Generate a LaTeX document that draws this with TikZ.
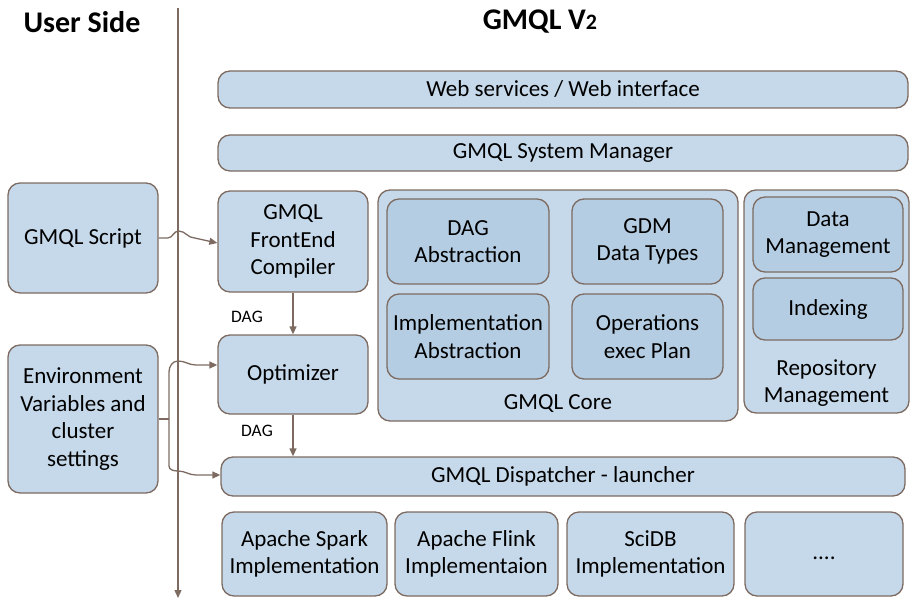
\documentclass[tikz,border=0pt]{standalone}
\usepackage{fontspec}
\setmainfont{Carlito}
\usetikzlibrary{arrows.meta}
\definecolor{boxfill}{HTML}{C6D9EA}
\definecolor{innerfill}{HTML}{B5CDE2}
\definecolor{edge}{HTML}{7D6B62}
\tikzset{
  base/.style={draw=edge, line width=1.3pt, rounded corners=12pt, align=center,
    font=\fontsize{23}{27.5}\selectfont, inner sep=0pt, text=black},
  box/.style={base, fill=boxfill},
  innerbox/.style={base, fill=innerfill},
  conn/.style={draw=edge, line width=1.3pt, -{Triangle[length=8pt,width=7pt]}},
  plain/.style={draw=edge, line width=1.3pt},
  lbl/.style={font=\fontsize{23}{27.5}\selectfont, align=center, text=black},
  title/.style={font=\fontsize{30}{34}\selectfont\bfseries},
  daglbl/.style={font=\fontsize{17.5}{19}\selectfont}
}
\begin{document}
\begin{tikzpicture}[x=1pt,y=-1pt]
\useasboundingbox (0,0) rectangle (910,599);
% titles
\node[title] (usertitle) at (82,22) {User Side};
\node[title] (gmqltitle) at (540,22) {GMQL V{\fontsize{22}{22}\selectfont 2}};
% separator line
\coordinate (sepTop) at (178,8);
\coordinate (sepBot) at (178,598);
\draw[conn] (sepTop) -- (sepBot);
% top bars
\node[box, minimum width=690pt, minimum height=37pt] (web) at (563,89.5) {Web services / Web interface};
\node[box, minimum width=690pt, minimum height=36pt] (sysman) at (563,153) {GMQL System Manager};
% user side
\node[box, minimum width=150pt, minimum height=110pt] (script) at (83,238) {GMQL Script};
\node[box, minimum width=150pt, minimum height=148pt] (env) at (83,419) {Environment\\Variables and\\cluster\\settings};
% frontend
\node[box, minimum width=150pt, minimum height=101pt] (compiler) at (293,241.5) {GMQL\\FrontEnd\\Compiler};
\node[box, minimum width=150pt, minimum height=79pt] (optimizer) at (293,374.5) {Optimizer};
\node[box, minimum width=684pt, minimum height=39pt] (dispatcher) at (563,476.5) {GMQL Dispatcher - launcher};
% core
\node[box, minimum width=360pt, minimum height=231pt] (core) at (558,305.5) {};
\node[lbl] (corelbl) at (558,404) {GMQL Core};
\node[innerbox, minimum width=162pt, minimum height=85pt] (dag) at (468,241.5) {DAG\\Abstraction};
\node[innerbox, minimum width=151pt, minimum height=85pt] (gdm) at (647.5,241.5) {GDM\\Data Types};
\node[innerbox, minimum width=162pt, minimum height=85pt] (impl) at (468,336.5) {Implementation\\Abstraction};
\node[innerbox, minimum width=151pt, minimum height=85pt] (ops) at (647.5,336.5) {Operations\\exec Plan};
% repository
\node[box, minimum width=165pt, minimum height=223pt] (repo) at (826.5,301.5) {};
\node[lbl] (repolbl) at (826.5,383) {Repository\\Management};
\node[innerbox, minimum width=150pt, minimum height=75pt] (datamgmt) at (828,234.5) {Data\\Management};
\node[innerbox, minimum width=150pt, minimum height=62pt] (indexing) at (828,309) {Indexing};
% implementations
\node[box, minimum width=165pt, minimum height=84pt] (spark) at (304.5,554) {Apache Spark\\Implementation};
\node[box, minimum width=163pt, minimum height=84pt] (flink) at (476.5,554) {Apache Flink\\Implementaion};
\node[box, minimum width=167pt, minimum height=84pt] (scidb) at (650.5,554) {SciDB\\Implementation};
\node[box, minimum width=158pt, minimum height=84pt] (dots) at (824,554) {\vphantom{Ag}....};
% DAG labels
\node[daglbl] (dag1) at (247,317) {DAG};
\node[daglbl] (dag2) at (257,431) {DAG};
% arrows
\draw[conn] (compiler.south) -- (optimizer.north);
\draw[conn] (optimizer.south) -- (optimizer.south |- dispatcher.north);
\draw[conn] (script.east) -- ++(9,0) to[out=0,in=180] ++(11,-7) to[out=0,in=180] ++(16,7) -- ([yshift=-1.5pt]compiler.west);
\coordinate (brace) at (169,419);
\draw[plain] (env.east) -- (brace);
\draw[conn] (brace) -- (169,372) to[out=90,in=180] (178,361) to[out=0,in=180] (196,365) -- ([yshift=9.5pt]optimizer.west);
\draw[conn] (brace) -- (169,466) to[out=-90,in=180] (178,471) to[out=0,in=180] (196,475) -- ([yshift=1.5pt]dispatcher.west);
\end{tikzpicture}
\end{document}
